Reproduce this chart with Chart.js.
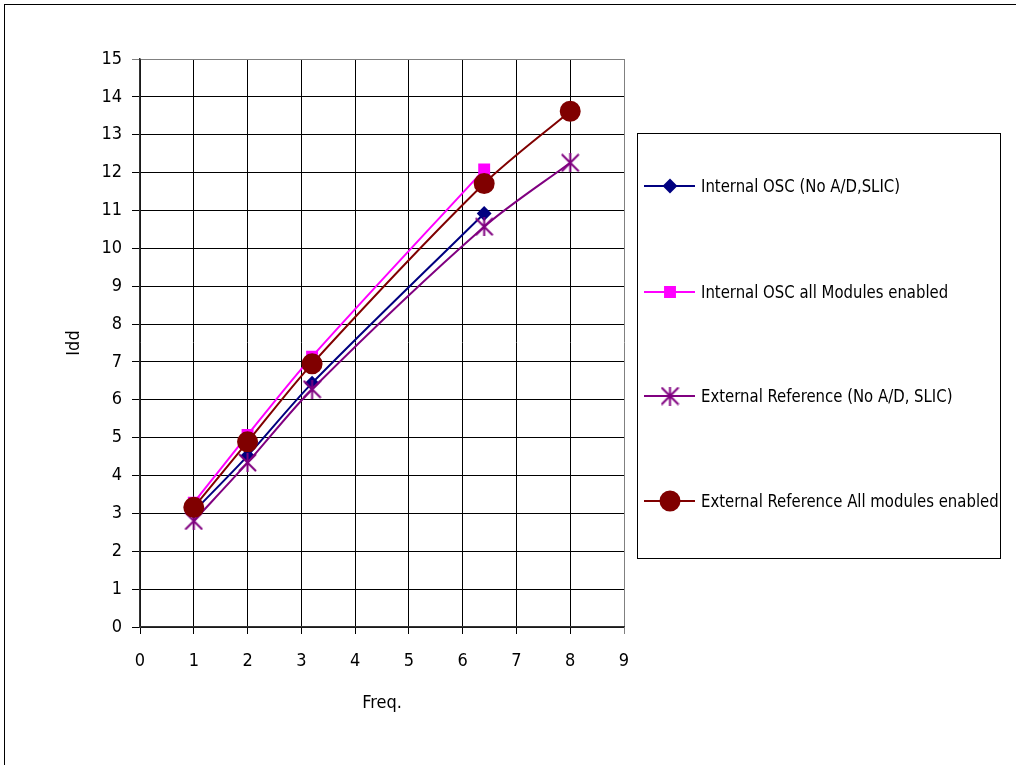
<!DOCTYPE html>
<html>
<head>
<meta charset="utf-8">
<script src="https://cdn.jsdelivr.net/npm/chart.js@4/dist/chart.umd.min.js"></script>
<style>
  html, body { margin: 0; padding: 0; background: #fff; }
  #wrap { position: relative; width: 1016px; height: 765px; }
</style>
</head>
<body>
<div id="wrap"><canvas id="iddChart" width="1016" height="765"></canvas></div>
<script>
// Idd vs Freq. -- four measurement series
var FREQ_INT = [1, 2, 3.2, 6.4];
var FREQ_EXT = [1, 2, 3.2, 6.4, 8];

var IDD_INT_NO_AD = [3.05, 4.52, 6.44, 10.92];
var IDD_INT_ALL = [3.28, 5.07, 7.14, 12.08];
var IDD_EXT_NO_AD = [2.8, 4.34, 6.28, 10.57, 12.26];
var IDD_EXT_ALL = [3.16, 4.89, 6.95, 11.71, 13.62];

var SERIES_LABELS = [
  'Internal OSC (No A/D,SLIC)',
  'Internal OSC all Modules enabled',
  'External Reference (No A/D, SLIC)',
  'External Reference All modules enabled'
];

var X_TITLE = 'Freq.';
var Y_TITLE = 'Idd';

var FONT = "'Liberation Sans Narrow', 'Arial Narrow', 'DejaVu Sans Condensed', Arial, sans-serif";

function pts(xs, ys) {
  return xs.map(function (x, i) { return { x: x, y: ys[i] }; });
}

// Excel-style star marker: an X with a vertical bar
function starMarker(color, size) {
  var c = document.createElement('canvas');
  c.width = size; c.height = size;
  var g = c.getContext('2d');
  g.strokeStyle = color;
  g.lineWidth = 2;
  g.beginPath();
  g.moveTo(1, 1); g.lineTo(size - 1, size - 1);
  g.moveTo(size - 1, 1); g.lineTo(1, size - 1);
  g.moveTo(size / 2, 0); g.lineTo(size / 2, size);
  g.stroke();
  return c;
}

var STAR = starMarker('#800080', 19);

var datasets = [
  {
    label: SERIES_LABELS[0], data: pts(FREQ_INT, IDD_INT_NO_AD),
    borderColor: '#000080', backgroundColor: '#000080', borderWidth: 2,
    pointStyle: 'rectRot', pointRadius: 6, order: 4
  },
  {
    label: SERIES_LABELS[1], data: pts(FREQ_INT, IDD_INT_ALL),
    borderColor: '#ff00ff', backgroundColor: '#ff00ff', borderWidth: 2,
    pointStyle: 'rect', pointRadius: 7, order: 3
  },
  {
    label: SERIES_LABELS[2], data: pts(FREQ_EXT, IDD_EXT_NO_AD),
    borderColor: '#800080', backgroundColor: '#800080', borderWidth: 2,
    pointStyle: STAR, pointRadius: 9, order: 2
  },
  {
    label: SERIES_LABELS[3], data: pts(FREQ_EXT, IDD_EXT_ALL),
    borderColor: '#800000', backgroundColor: '#800000', borderWidth: 2,
    pointStyle: 'circle', pointRadius: 9.5, order: 1
  }
];

/* Outer frame of the chart object (only its top and left edges are in view). */
var framePlugin = {
  id: 'frame',
  beforeDraw: function (chart) {
    var ctx = chart.ctx;
    ctx.save();
    ctx.fillStyle = '#fff';
    ctx.fillRect(0, 0, chart.width, chart.height);
    ctx.strokeStyle = '#000';
    ctx.lineWidth = 1;
    ctx.strokeRect(4.5, 4.5, 1200, 1000);
    ctx.restore();
  }
};

/* Boxed legend on the right, items spread vertically as in the original. */
var LEGEND_BOX = { left: 637, top: 133, right: 1000, bottom: 558 };
var LEGEND_Y = [186, 292, 396, 501];

var legendPlugin = {
  id: 'boxLegend',
  afterDraw: function (chart) {
    var ctx = chart.ctx;
    var b = LEGEND_BOX;
    ctx.save();
    ctx.strokeStyle = '#000';
    ctx.lineWidth = 1;
    ctx.strokeRect(b.left + 0.5, b.top + 0.5, b.right - b.left, b.bottom - b.top);
    chart.data.datasets.forEach(function (ds, i) {
      var y = LEGEND_Y[i];
      ctx.strokeStyle = ds.borderColor;
      ctx.fillStyle = ds.backgroundColor;
      ctx.lineWidth = 2;
      ctx.beginPath();
      ctx.moveTo(644, y);
      ctx.lineTo(695, y);
      ctx.stroke();
      Chart.helpers.drawPoint(ctx, {
        pointStyle: ds.pointStyle, radius: ds.pointRadius, rotation: 0, borderWidth: 1
      }, 670, y);
      // narrow face is not installed, so squeeze the text a little
      ctx.save();
      ctx.translate(701, y + 1);
      ctx.scale(0.92, 1);
      ctx.font = '18px ' + FONT;
      ctx.textBaseline = 'middle';
      ctx.textAlign = 'left';
      ctx.fillStyle = '#000';
      ctx.fillText(ds.label, 0, 0);
      ctx.restore();
    });
    ctx.restore();
  }
};

new Chart(document.getElementById('iddChart').getContext('2d'), {
  type: 'line',
  data: { datasets: datasets },
  options: {
    responsive: false,
    animation: false,
    events: [],
    layout: { padding: { left: 0, top: 59, right: 392, bottom: 0 } },
    elements: {
      line: { tension: 0.3, fill: false },
      point: { borderWidth: 1 }
    },
    plugins: { legend: { display: false }, tooltip: { enabled: false } },
    scales: {
      x: {
        type: 'linear', min: 0, max: 9,
        ticks: { stepSize: 1, color: '#000', padding: 17, font: { family: FONT, size: 18 } },
        grid: {
          color: function (c) { return c.index === 9 ? '#808080' : '#000'; },
          lineWidth: 1, tickLength: 7
        },
        border: { color: '#333', width: 1.5 },
        title: {
          display: true, text: X_TITLE, color: '#000',
          font: { family: FONT, size: 18 }, padding: { top: 0, bottom: 51 }
        },
        afterFit: function (s) { s.height = 138; }
      },
      y: {
        min: 0, max: 15,
        ticks: { stepSize: 1, color: '#000', padding: 10, font: { family: FONT, size: 18 } },
        grid: {
          color: function (c) { return c.index === 15 ? '#808080' : '#000'; },
          lineWidth: 1, tickLength: 8
        },
        border: { color: '#333', width: 1.5 },
        title: {
          display: true, text: Y_TITLE, color: '#000',
          font: { family: FONT, size: 18 }, padding: { top: 64, bottom: 0 }
        },
        afterFit: function (s) { s.width = 140; }
      }
    }
  },
  plugins: [framePlugin, legendPlugin]
});
</script>
</body>
</html>
